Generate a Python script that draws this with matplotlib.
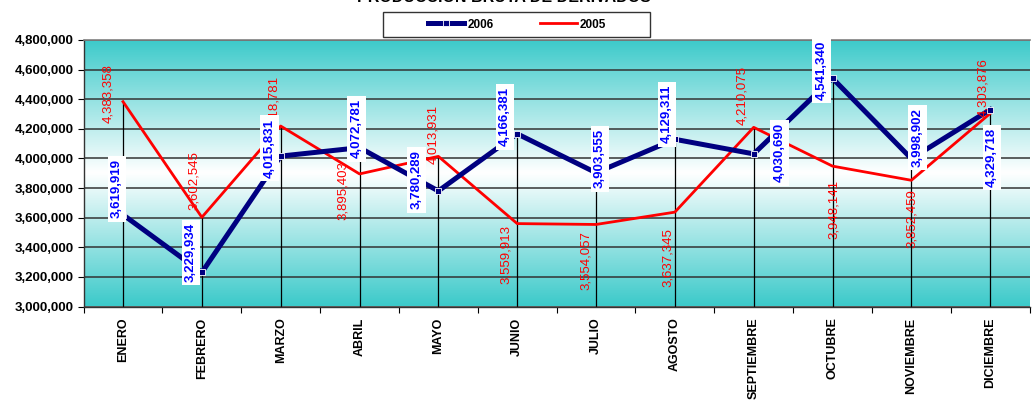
import numpy as np
import matplotlib
matplotlib.use("Agg")
import matplotlib.pyplot as plt
from matplotlib.colors import LinearSegmentedColormap
from matplotlib.ticker import FuncFormatter, MultipleLocator
from matplotlib.patches import Rectangle

# ---------------- data ----------------
months = ["ENERO", "FEBRERO", "MARZO", "ABRIL", "MAYO", "JUNIO", "JULIO",
          "AGOSTO", "SEPTIEMBRE", "OCTUBRE", "NOVIEMBRE", "DICIEMBRE"]
values_2006 = [3619919, 3229934, 4015831, 4072781, 3780289, 4166381,
               3903555, 4129311, 4030690, 4541340, 3998902, 4329718]
values_2005 = [4383358, 3602545, 4218781, 3895403, 4013931, 3559913,
               3554057, 3637345, 4210075, 3948141, 3852459, 4303876]
title = "PRODUCCION BRUTA DE DERIVADOS"
series_names = ["2006", "2005"]

# ---------------- layout (label offsets in pixels) ----------------
off_2006 = [(-6, 26), (-11, 20), (-11, 8), (-3, 19), (-22, 11), (-12, 17),
            (4, 14), (-8, 25), (26, 1), (-11, 8), (6, 21), (2, -48)]
off_2005 = [(-15, 8), (-8, 37), (-6, 21), (-17, -17), (-5, 22), (-11, -31),
            (-10, -36), (-7, -45), (-11, 32), (1, -43), (1, -38), (-7, 26)]

plt.rcParams['font.family'] = ['Liberation Sans', 'DejaVu Sans']

W, H = 1033, 401
fig = plt.figure(figsize=(W / 100, H / 100), dpi=100)
ax = fig.add_axes([83.6 / W, 1 - 306.5 / H, (1029.6 - 83.6) / W, (306.5 - 40) / H])

x = np.arange(len(months))
ymin, ymax = 3000000, 4800000
ax.set_xlim(-0.5, len(months) - 0.5)
ax.set_ylim(ymin, ymax)

# gradient background teal -> white -> teal
teal = "#3ccaca"
cmap = LinearSegmentedColormap.from_list("g", [teal, "#ffffff", teal])
grad = np.linspace(0, 1, 256).reshape(-1, 1)
ax.imshow(grad, aspect="auto", cmap=cmap, extent=[-0.5, len(months) - 0.5, ymin, ymax],
          origin="lower", zorder=0, interpolation="bicubic")

# horizontal gridlines
ax.yaxis.set_major_locator(MultipleLocator(200000))
ax.grid(axis="y", color="#333333", linewidth=1.1, zorder=1)
ax.set_axisbelow(True)

# drop lines
tops = np.maximum(values_2006, values_2005)
ax.vlines(x, ymin, tops, color="black", linewidth=0.9, zorder=2)

# series
l05, = ax.plot(x, values_2005, color="#ff0000", linewidth=2.0, zorder=3, label=series_names[1])
l06, = ax.plot(x, values_2006, color="#000080", linewidth=3.6, zorder=4,
               marker="s", markersize=4, markerfacecolor="#000080",
               markeredgecolor="white", markeredgewidth=0.6, label=series_names[0])

# data labels
for i in range(len(months)):
    ax.annotate(f"{values_2006[i]:,}", (x[i], values_2006[i]), xytext=off_2006[i],
                textcoords="offset pixels", rotation=90, ha="center", va="center",
                color="#0000ff", fontsize=9.5, fontweight="bold", zorder=6,
                bbox=dict(boxstyle="square,pad=0.25", facecolor="white", edgecolor="none"))
    ax.annotate(f"{values_2005[i]:,}", (x[i], values_2005[i]), xytext=off_2005[i],
                textcoords="offset pixels", rotation=90, ha="center", va="center",
                color="#ff0000", fontsize=9.5, zorder=5)

# axes styling
ax.set_xticks(x)
ax.set_xticklabels(months, rotation=90, fontsize=9, fontweight="bold", va="top")
ax.set_xticks(np.arange(-0.5, len(months), 1), minor=True)
ax.tick_params(axis="x", which="major", length=0, pad=8)
ax.tick_params(axis="x", which="minor", length=4, width=0.8, direction="out")
ax.tick_params(axis="y", length=4, width=0.8, direction="out", pad=3)
ax.yaxis.set_major_formatter(FuncFormatter(lambda v, p: f"{int(v):,}"))
for lbl in ax.get_yticklabels():
    lbl.set_fontweight("bold")
    lbl.set_fontsize(9.5)

ax.spines["right"].set_visible(False)
ax.spines["top"].set_color("#808080")
ax.spines["top"].set_linewidth(1.2)
for s in ["left", "bottom"]:
    ax.spines[s].set_color("#333333")
    ax.spines[s].set_linewidth(1.0)

# title (cut at top)
fig.text(504 / W, 1 - 2.5 / H, title, ha="center", va="baseline",
         fontsize=11.5, fontweight="bold")

# legend frame and entries
fig.patches.append(Rectangle((383 / W, 1 - 37 / H), (650 - 383) / W, 25 / H,
                             transform=fig.transFigure, facecolor="white",
                             edgecolor="#333333", linewidth=1.0, zorder=5))
leg = fig.legend(handles=[l06, l05], labels=series_names,
                 loc="center", bbox_to_anchor=(517 / W, 1 - 24.5 / H),
                 ncol=2, frameon=False,
                 prop={"weight": "bold", "size": 8.5}, handlelength=3.1,
                 columnspacing=4.0, handletextpad=0.25)
leg.set_zorder(6)

fig.savefig("out.png", dpi=100)
